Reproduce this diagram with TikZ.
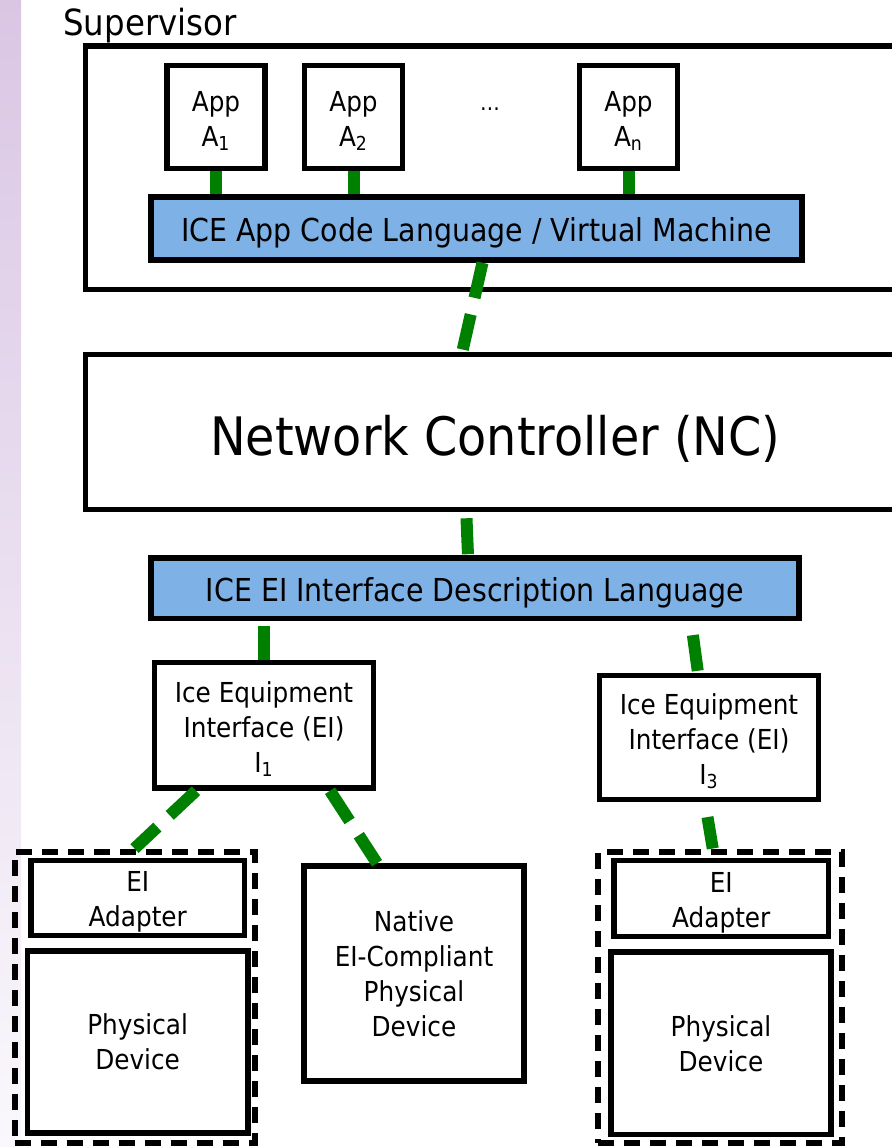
\documentclass[tikz,border=0pt]{standalone}
\usepackage{fontspec}
\setmainfont{DejaVu Sans}[FakeStretch=0.9]
\usetikzlibrary{calc,positioning}
\definecolor{Strip}{HTML}{DAC6E4}
\definecolor{StripLow}{HTML}{FAF8FC}
\definecolor{Layer}{HTML}{7EB2E6}
\definecolor{Wire}{HTML}{008000}
\newcommand{\topstrut}{\rule{0pt}{14pt}}
\begin{document}
\begin{tikzpicture}[x=0.5pt, y=-0.5pt, box/.style={draw, line width=2.75pt, fill=white, inner sep=0pt, align=center, font=\fontsize{13.75}{17.5}\selectfont}, layer/.style={box, fill=Layer, font=\fontsize{15.8}{18}\selectfont, execute at begin node={\rule{0pt}{16.5pt}}}, grp/.style={draw, line width=3pt, dash pattern=on 8pt off 5pt, inner sep=0pt}, link/.style={draw=Wire, line width=6pt, dash pattern=on 18pt off 8.5pt}]
\useasboundingbox (0,0) rectangle (892,1147);
\clip (0,0) rectangle (892,1147);
\shade[top color=Strip, bottom color=StripLow] (0,0) rectangle (21,1147);
\node[anchor=base west, inner sep=0pt, font=\fontsize{18}{20}\selectfont] (suplabel) at (63,35) {Supervisor};
\node[box, minimum width=409.75pt, minimum height=121.75pt] (sup) at (495.25,167.75) {};
\node[box, minimum width=49pt, minimum height=51.5pt] (a1) at (216,117) {\topstrut App\\ A\textsubscript{1}};
\node[box, minimum width=49pt, minimum height=51.5pt] (a2) at (353.5,117) {\topstrut App\\ A\textsubscript{2}};
\node[font=\fontsize{11}{12}\selectfont] (dots) at (490,109) {\ldots};
\node[box, minimum width=49pt, minimum height=51.5pt] (an) at (628.5,117) {\topstrut App\\ A\textsubscript{n}};
\node[layer, minimum width=325.5pt, minimum height=31.5pt] (vm) at (476.5,228.5) {ICE App Code Language / Virtual Machine};
\node[box, minimum width=409.75pt, minimum height=77.5pt, font=\fontsize{26.5}{30}\selectfont, execute at begin node={\rule{0pt}{27pt}}] (nc) at (495.25,432) {Network Controller (NC)};
\node[layer, minimum width=324pt, minimum height=30.25pt] (idl) at (475,588.25) {ICE EI Interface Description Language};
\node[box, minimum width=109.5pt, minimum height=62.75pt] (i1) at (264,725.25) {\topstrut Ice Equipment\\ Interface (EI)\\ I\textsubscript{1}};
\node[box, minimum width=109.5pt, minimum height=62pt] (i3) at (709,737.5) {\topstrut Ice Equipment\\ Interface (EI)\\ I\textsubscript{3}};
\node[grp, minimum width=120pt, minimum height=145.75pt] (grpl) at (134.5,997.25) {};
\node[box, minimum width=106.75pt, minimum height=37.5pt] (adl) at (137.75,898) {\topstrut EI\\ Adapter};
\node[box, minimum width=110.35pt, minimum height=91pt] (phl) at (137.6,1042) {Physical\\ Device};
\node[box, minimum width=110pt, minimum height=107.5pt] (nat) at (414,973.5) {Native\\ EI-Compliant\\ Physical\\ Device};
\node[grp, minimum width=121.75pt, minimum height=145.75pt] (grpr) at (719.75,997.25) {};
\node[box, minimum width=107.25pt, minimum height=38pt] (adr) at (721.25,898.5) {\topstrut EI\\ Adapter};
\node[box, minimum width=110pt, minimum height=91.25pt] (phr) at (721,1043.25) {Physical\\ Device};
\draw[link] (a1.south) -- (a1.south |- vm.north);
\draw[link] (a2.south) -- (a2.south |- vm.north);
\draw[link] (an.south) -- (an.south |- vm.north);
\draw[link] ([xshift=3pt]vm.south) -- ([xshift=-16.5pt]nc.north);
\draw[link, dash phase=23.5pt] ([xshift=-14.5pt]nc.south) -- ([xshift=-3.5pt]idl.north);
\draw[link, dash phase=24pt] (i1.north |- idl.south) -- (i1.north);
\draw[link, dash phase=19.5pt] ([xshift=-9pt]i3.north |- idl.south) -- ([xshift=-5.5pt]i3.north);
\draw[link, dash phase=19pt] ([xshift=-2pt]i3.south) -- ([xshift=-3.5pt]grpr.north);
\draw[link] ([xshift=-34pt]i1.south) -- (grpl.north);
\draw[link] ([xshift=33pt]i1.south) -- ([xshift=-18.5pt]nat.north);
\end{tikzpicture}
\end{document}
